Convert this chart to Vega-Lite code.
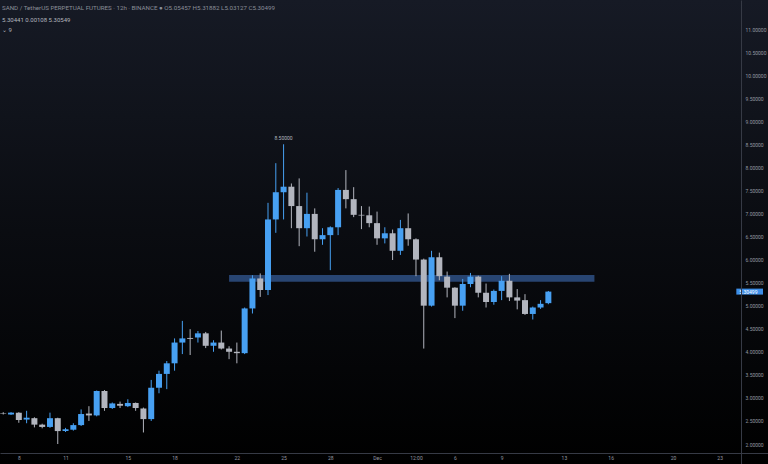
{
  "$schema": "https://vega.github.io/schema/vega-lite/v6.json",
  "width": 768,
  "height": 464,
  "autosize": {"type": "none"},
  "padding": 0,
  "background": "#000000",
  "config": {"view": {"stroke": null}, "font": "Roboto"},
  "resolve": {"axis": {"x": "independent", "y": "independent"}},
  "title": {
    "text": "SAND / TetherUS PERPETUAL FUTURES · 12h · BINANCE    ●   O5.05457  H5.31882  L5.03127  C5.30499",
    "subtitle": ["5.30441    0.00108    5.30549", "⌄ 9"],
    "anchor": "start",
    "frame": "group",
    "orient": "top",
    "offset": -33,
    "dx": 2,
    "fontSize": 6.2,
    "fontWeight": "normal",
    "color": "#8a8e99",
    "subtitleFontSize": 6,
    "subtitleColor": "#b2b5be",
    "subtitlePadding": 6,
    "subtitleLineHeight": 10
  },
  "layer": [
    {
      "data": {"values": [{}]},
      "mark": {
        "type": "rect",
        "fill": {
          "gradient": "linear",
          "x1": 0, "y1": 0, "x2": 0, "y2": 1,
          "stops": [
            {"offset": 0, "color": "#161a25"},
            {"offset": 0.5, "color": "#0a0c11"},
            {"offset": 1, "color": "#000000"}
          ]
        }
      },
      "encoding": {}
    },
    {
      "data": {"values": [{"t0": "2021-11-21T12:00:00Z", "t1": "2021-12-14T23:00:00Z", "p0": 5.52, "p1": 5.665}]},
      "mark": {"type": "rect", "color": "#284572"},
      "encoding": {
        "x": {"field": "t0", "type": "temporal", "scale": {"type": "utc", "domain": [{"year": 2021, "month": 11, "date": 7, "hours": 2, "minutes": 42, "utc": true}, {"year": 2021, "month": 12, "date": 25, "hours": 18, "minutes": 46, "utc": true}]}, "axis": {
          "orient": "bottom", "offset": -11, "title": null, "grid": false, "ticks": false, "zindex": 1, "labelOverlap": false,
          "domainColor": "#363a45", "labelColor": "#9598a1", "labelFontSize": 5, "labelPadding": 2, "labelFlush": false,
          "values": [
            {"year": 2021, "month": 11, "date": 8, "utc": true},
            {"year": 2021, "month": 11, "date": 11, "utc": true},
            {"year": 2021, "month": 11, "date": 15, "utc": true},
            {"year": 2021, "month": 11, "date": 18, "utc": true},
            {"year": 2021, "month": 11, "date": 22, "utc": true},
            {"year": 2021, "month": 11, "date": 25, "utc": true},
            {"year": 2021, "month": 11, "date": 28, "utc": true},
            {"year": 2021, "month": 12, "date": 1, "utc": true},
            {"year": 2021, "month": 12, "date": 3, "hours": 12, "utc": true},
            {"year": 2021, "month": 12, "date": 6, "utc": true},
            {"year": 2021, "month": 12, "date": 9, "utc": true},
            {"year": 2021, "month": 12, "date": 13, "utc": true},
            {"year": 2021, "month": 12, "date": 16, "utc": true},
            {"year": 2021, "month": 12, "date": 20, "utc": true},
            {"year": 2021, "month": 12, "date": 23, "utc": true}
          ],
          "labelExpr": "utcdate(datum.value) == 1 ? 'Dec' : (utchours(datum.value) == 12 ? '12:00' : '' + utcdate(datum.value))"
        }},
        "x2": {"field": "t1"},
        "y": {"field": "p0", "type": "quantitative", "scale": {"domain": [1.5663, 11.629], "nice": false, "zero": false}, "axis": {
          "orient": "right", "offset": -27, "title": null, "grid": false, "ticks": false, "zindex": 1, "labelOverlap": false,
          "domainColor": "#363a45", "labelColor": "#9598a1", "labelFontSize": 5, "labelPadding": 4,
          "values": [2, 2.5, 3, 3.5, 4, 4.5, 5, 5.5, 6, 6.5, 7, 7.5, 8, 8.5, 9, 9.5, 10, 10.5, 11],
          "format": ".5f"
        }},
        "y2": {"field": "p1"}
      }
    },
    {
      "data": {"name": "candles"},
      "layer": [
        {
          "mark": {"type": "rule", "strokeWidth": 1},
          "encoding": {
            "x": {"field": "t", "type": "temporal", "axis": null},
            "y": {"field": "l", "type": "quantitative", "axis": null},
            "y2": {"field": "h"},
            "color": {"condition": {"test": "datum.c >= datum.o", "value": "#47a0f2"}, "value": "#b2b5be"}
          }
        },
        {
          "mark": {"type": "bar", "size": 6},
          "encoding": {
            "x": {"field": "t", "type": "temporal", "axis": null},
            "y": {"field": "o", "type": "quantitative", "axis": null},
            "y2": {"field": "c"},
            "color": {"condition": {"test": "datum.c >= datum.o", "value": "#47a0f2"}, "value": "#b2b5be"}
          }
        }
      ]
    },
    {
      "data": {"values": [{"t": "2021-11-25T00:00:00Z", "p": 8.5, "label": "8.50000"}]},
      "mark": {"type": "text", "dy": -6, "fontSize": 5, "color": "#b2b5be"},
      "encoding": {
        "x": {"field": "t", "type": "temporal", "axis": null},
        "y": {"field": "p", "type": "quantitative", "axis": null},
        "text": {"field": "label"}
      }
    },
    {
      "data": {"values": [{"t0": "2021-12-24T01:40:00Z", "t1": "2021-12-25T18:46:00Z", "ta": "2021-12-24T06:15:00Z", "p": 5.30499, "p0": 5.24, "p1": 5.37, "label": "5.30499"}]},
      "layer": [
        {
          "mark": {"type": "rect", "color": "#3d8ee8"},
          "encoding": {
            "x": {"field": "t0", "type": "temporal", "axis": null},
            "x2": {"field": "t1"},
            "y": {"field": "p0", "type": "quantitative", "axis": null},
            "y2": {"field": "p1"}
          }
        },
        {
          "mark": {"type": "text", "align": "left", "fontSize": 5, "color": "#ffffff"},
          "encoding": {
            "x": {"field": "ta", "type": "temporal", "axis": null},
            "y": {"field": "p", "type": "quantitative", "axis": null},
            "text": {"field": "label"}
          }
        }
      ]
    }
  ],
  "datasets": {
    "candles": [
      {"t": "2021-11-07T00:00:00Z", "o": 2.67, "h": 2.69, "l": 2.64, "c": 2.66},
      {"t": "2021-11-07T12:00:00Z", "o": 2.64, "h": 2.69, "l": 2.63, "c": 2.68},
      {"t": "2021-11-08T00:00:00Z", "o": 2.68, "h": 2.69, "l": 2.46, "c": 2.52},
      {"t": "2021-11-08T12:00:00Z", "o": 2.53, "h": 2.72, "l": 2.45, "c": 2.57},
      {"t": "2021-11-09T00:00:00Z", "o": 2.56, "h": 2.58, "l": 2.36, "c": 2.42},
      {"t": "2021-11-09T12:00:00Z", "o": 2.42, "h": 2.44, "l": 2.34, "c": 2.37},
      {"t": "2021-11-10T00:00:00Z", "o": 2.37, "h": 2.68, "l": 2.35, "c": 2.56},
      {"t": "2021-11-10T12:00:00Z", "o": 2.56, "h": 2.57, "l": 2.0, "c": 2.28},
      {"t": "2021-11-11T00:00:00Z", "o": 2.28, "h": 2.35, "l": 2.26, "c": 2.32},
      {"t": "2021-11-11T12:00:00Z", "o": 2.31, "h": 2.45, "l": 2.29, "c": 2.41},
      {"t": "2021-11-12T00:00:00Z", "o": 2.41, "h": 2.75, "l": 2.39, "c": 2.65},
      {"t": "2021-11-12T12:00:00Z", "o": 2.66, "h": 2.82, "l": 2.5, "c": 2.62},
      {"t": "2021-11-13T00:00:00Z", "o": 2.62, "h": 3.16, "l": 2.6, "c": 3.15},
      {"t": "2021-11-13T12:00:00Z", "o": 3.15, "h": 3.17, "l": 2.72, "c": 2.78},
      {"t": "2021-11-14T00:00:00Z", "o": 2.78, "h": 2.9, "l": 2.76, "c": 2.88},
      {"t": "2021-11-14T12:00:00Z", "o": 2.87, "h": 2.92, "l": 2.78, "c": 2.83},
      {"t": "2021-11-15T00:00:00Z", "o": 2.82, "h": 2.97, "l": 2.8, "c": 2.89},
      {"t": "2021-11-15T12:00:00Z", "o": 2.89, "h": 2.9, "l": 2.72, "c": 2.78},
      {"t": "2021-11-16T00:00:00Z", "o": 2.77, "h": 2.79, "l": 2.25, "c": 2.54},
      {"t": "2021-11-16T12:00:00Z", "o": 2.54, "h": 3.39, "l": 2.5, "c": 3.22},
      {"t": "2021-11-17T00:00:00Z", "o": 3.22, "h": 3.59, "l": 3.1, "c": 3.52},
      {"t": "2021-11-17T12:00:00Z", "o": 3.52, "h": 3.8, "l": 3.19, "c": 3.75},
      {"t": "2021-11-18T00:00:00Z", "o": 3.75, "h": 4.29, "l": 3.59, "c": 4.2},
      {"t": "2021-11-18T12:00:00Z", "o": 4.2, "h": 4.67, "l": 3.95, "c": 4.29},
      {"t": "2021-11-19T00:00:00Z", "o": 4.3, "h": 4.49, "l": 3.93, "c": 4.28},
      {"t": "2021-11-19T12:00:00Z", "o": 4.31, "h": 4.45, "l": 4.2, "c": 4.4},
      {"t": "2021-11-20T00:00:00Z", "o": 4.4, "h": 4.43, "l": 4.08, "c": 4.13},
      {"t": "2021-11-20T12:00:00Z", "o": 4.13, "h": 4.25, "l": 4.0, "c": 4.2},
      {"t": "2021-11-21T00:00:00Z", "o": 4.2, "h": 4.46, "l": 4.05, "c": 4.07},
      {"t": "2021-11-21T12:00:00Z", "o": 4.07, "h": 4.12, "l": 3.84, "c": 4.0},
      {"t": "2021-11-22T00:00:00Z", "o": 4.0, "h": 4.2, "l": 3.75, "c": 3.97},
      {"t": "2021-11-22T12:00:00Z", "o": 3.97, "h": 4.96, "l": 3.95, "c": 4.94},
      {"t": "2021-11-23T00:00:00Z", "o": 4.94, "h": 5.66, "l": 4.83, "c": 5.59},
      {"t": "2021-11-23T12:00:00Z", "o": 5.59, "h": 5.7, "l": 5.19, "c": 5.34},
      {"t": "2021-11-24T00:00:00Z", "o": 5.34, "h": 7.23, "l": 5.23, "c": 6.87},
      {"t": "2021-11-24T12:00:00Z", "o": 6.87, "h": 8.09, "l": 6.58, "c": 7.46},
      {"t": "2021-11-25T00:00:00Z", "o": 7.46, "h": 8.5, "l": 6.87, "c": 7.58},
      {"t": "2021-11-25T12:00:00Z", "o": 7.58, "h": 7.65, "l": 6.68, "c": 7.16},
      {"t": "2021-11-26T00:00:00Z", "o": 7.16, "h": 7.76, "l": 6.29, "c": 6.68},
      {"t": "2021-11-26T12:00:00Z", "o": 6.68, "h": 7.45, "l": 6.5, "c": 6.99},
      {"t": "2021-11-27T00:00:00Z", "o": 6.99, "h": 7.11, "l": 6.17, "c": 6.44},
      {"t": "2021-11-27T12:00:00Z", "o": 6.44, "h": 6.68, "l": 6.32, "c": 6.53},
      {"t": "2021-11-28T00:00:00Z", "o": 6.53, "h": 6.72, "l": 5.77, "c": 6.7},
      {"t": "2021-11-28T12:00:00Z", "o": 6.7, "h": 7.55, "l": 6.53, "c": 7.51},
      {"t": "2021-11-29T00:00:00Z", "o": 7.51, "h": 7.94, "l": 7.11, "c": 7.31},
      {"t": "2021-11-29T12:00:00Z", "o": 7.31, "h": 7.57, "l": 6.92, "c": 6.97},
      {"t": "2021-11-30T00:00:00Z", "o": 6.97, "h": 7.16, "l": 6.66, "c": 6.955},
      {"t": "2021-11-30T12:00:00Z", "o": 6.96, "h": 7.15, "l": 6.7, "c": 6.79},
      {"t": "2021-12-01T00:00:00Z", "o": 6.79, "h": 7.04, "l": 6.32, "c": 6.46},
      {"t": "2021-12-01T12:00:00Z", "o": 6.46, "h": 6.7, "l": 6.35, "c": 6.57},
      {"t": "2021-12-02T00:00:00Z", "o": 6.57, "h": 6.65, "l": 5.99, "c": 6.19},
      {"t": "2021-12-02T12:00:00Z", "o": 6.19, "h": 6.86, "l": 6.1, "c": 6.68},
      {"t": "2021-12-03T00:00:00Z", "o": 6.68, "h": 7.0, "l": 6.3, "c": 6.44},
      {"t": "2021-12-03T12:00:00Z", "o": 6.44, "h": 6.46, "l": 5.64, "c": 6.0},
      {"t": "2021-12-04T00:00:00Z", "o": 6.0, "h": 6.02, "l": 4.07, "c": 5.0},
      {"t": "2021-12-04T12:00:00Z", "o": 5.0, "h": 6.19, "l": 4.98, "c": 6.05},
      {"t": "2021-12-05T00:00:00Z", "o": 6.05, "h": 6.15, "l": 5.55, "c": 5.64},
      {"t": "2021-12-05T12:00:00Z", "o": 5.63, "h": 5.74, "l": 5.18, "c": 5.39},
      {"t": "2021-12-06T00:00:00Z", "o": 5.39, "h": 5.4, "l": 4.73, "c": 5.0},
      {"t": "2021-12-06T12:00:00Z", "o": 5.0, "h": 5.58, "l": 4.89, "c": 5.47},
      {"t": "2021-12-07T00:00:00Z", "o": 5.47, "h": 5.71, "l": 5.4, "c": 5.63},
      {"t": "2021-12-07T12:00:00Z", "o": 5.63, "h": 5.65, "l": 5.18, "c": 5.28},
      {"t": "2021-12-08T00:00:00Z", "o": 5.28, "h": 5.48, "l": 4.96, "c": 5.08},
      {"t": "2021-12-08T12:00:00Z", "o": 5.08, "h": 5.35, "l": 5.02, "c": 5.32},
      {"t": "2021-12-09T00:00:00Z", "o": 5.32, "h": 5.64, "l": 5.12, "c": 5.54},
      {"t": "2021-12-09T12:00:00Z", "o": 5.54, "h": 5.69, "l": 5.1, "c": 5.18},
      {"t": "2021-12-10T00:00:00Z", "o": 5.18, "h": 5.36, "l": 4.92, "c": 5.11},
      {"t": "2021-12-10T12:00:00Z", "o": 5.12, "h": 5.25, "l": 4.8, "c": 4.82},
      {"t": "2021-12-11T00:00:00Z", "o": 4.82, "h": 4.98, "l": 4.7, "c": 4.96},
      {"t": "2021-12-11T12:00:00Z", "o": 4.96, "h": 5.12, "l": 4.93, "c": 5.04},
      {"t": "2021-12-12T00:00:00Z", "o": 5.05457, "h": 5.31882, "l": 5.03127, "c": 5.30499}
    ]
  }
}
